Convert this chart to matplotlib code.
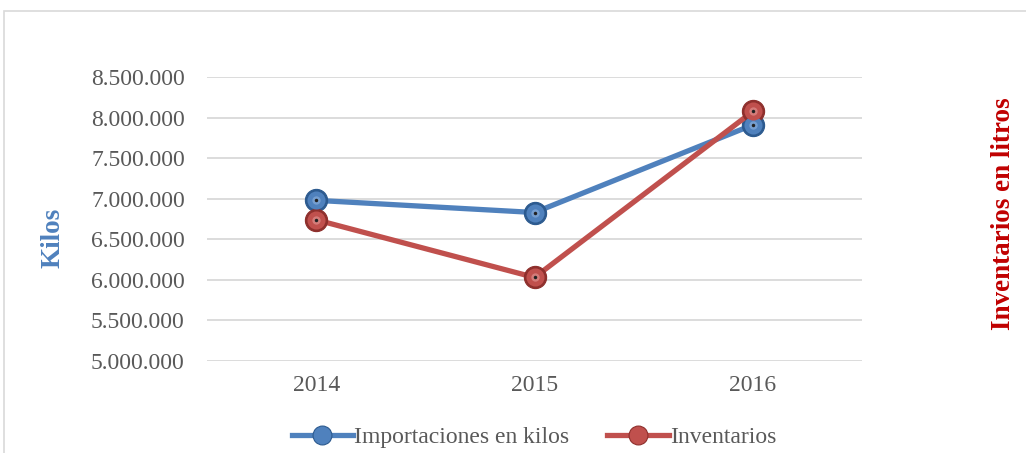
import matplotlib
matplotlib.use("Agg")
import matplotlib.pyplot as plt
from matplotlib.patches import Rectangle
from matplotlib.ticker import FuncFormatter

years = ["2014", "2015", "2016"]
importaciones = [6980000, 6830000, 7910000]
inventarios = [6740000, 6030000, 8075000]
y_ticks = [5000000, 5500000, 6000000, 6500000, 7000000, 7500000, 8000000, 8500000]

blue = "#4F81BD"
red = "#C0504D"
gray_txt = "#595959"

plt.rcParams["font.family"] = ["Liberation Serif", "DejaVu Serif"]

fig = plt.figure(figsize=(10.26, 4.53), dpi=100)
# outer chart frame (only top and left edges visible)
fig.patches.append(Rectangle((4 / 1026, -0.1), 1.2, 1 - 11 / 453 + 0.1,
                             transform=fig.transFigure, fill=False,
                             edgecolor="#D9D9D9", linewidth=1.2))

ax = fig.add_axes([207 / 1026, 1 - 361 / 453, (862 - 207) / 1026, (361 - 77) / 453])
x = range(len(years))


def sphere(xs, ys, base, dark, light, label):
    ax.plot(xs, ys, color=base, linewidth=3.8, zorder=3,
            marker="o", markersize=16, markerfacecolor=dark,
            markeredgecolor=dark, markeredgewidth=0.8, label=label)
    ax.plot(xs, ys, linestyle="none", marker="o", markersize=13,
            markerfacecolor=base, markeredgecolor="none", zorder=4)
    ax.plot(xs, ys, linestyle="none", marker="o", markersize=6,
            markerfacecolor=light, markeredgecolor="none", zorder=5, alpha=0.6)
    ax.plot(xs, ys, linestyle="none", marker="o", markersize=2.5,
            markerfacecolor="#222222", markeredgecolor="none", zorder=6)


sphere(x, importaciones, blue, "#2C5A8F", "#8FB3DE", "Importaciones en kilos")
sphere(x, inventarios, red, "#8E2F2C", "#E39A98", "Inventarios")

ax.set_xlim(-0.5, 2.5)
ax.set_ylim(5000000, 8500000)
ax.set_yticks(y_ticks)
ax.yaxis.set_major_formatter(FuncFormatter(lambda v, p: f"{int(v):,}".replace(",", ".")))
ax.set_xticks(list(x))
ax.set_xticklabels(years)
ax.tick_params(axis="both", length=0, labelsize=17, labelcolor=gray_txt)
ax.tick_params(axis="y", pad=16)
ax.tick_params(axis="x", pad=10)
ax.grid(axis="y", color="#D9D9D9", linewidth=1.3)
ax.set_axisbelow(True)
for s in ax.spines.values():
    s.set_visible(False)

fig.text(53 / 1026, 1 - 238 / 453, "Kilos", rotation=90, ha="center", va="center",
         fontsize=19.5, fontweight="bold", color=blue)
fig.text(1004 / 1026, 1 - 214 / 453, "Inventarios en litros", rotation=90,
         ha="center", va="center", fontsize=19.5, fontweight="bold", color="#C00000")

handles, labels = ax.get_legend_handles_labels()
leg = fig.legend(handles, labels, loc="center", bbox_to_anchor=(534 / 1026, 1 - 437 / 453),
                 ncol=2, frameon=False, fontsize=17, handlelength=2.6, markerscale=0.85,
                 columnspacing=1.6, handletextpad=0.05)
for t in leg.get_texts():
    t.set_color(gray_txt)
for h, c in zip(leg.legend_handles, [blue, red]):
    h.set_markerfacecolor(c)

fig.savefig("out.png", dpi=100)
